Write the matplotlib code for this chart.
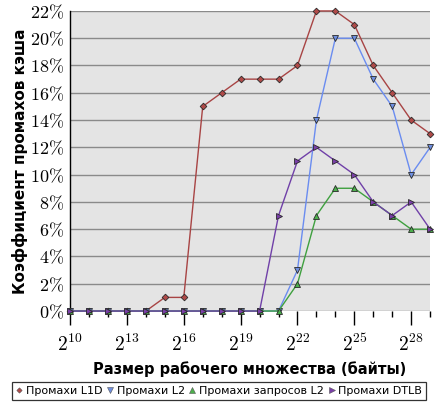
import matplotlib
matplotlib.use('Agg')
import matplotlib.pyplot as plt
from matplotlib.ticker import FixedLocator, MultipleLocator, FuncFormatter
from matplotlib.lines import Line2D

plt.rcParams['mathtext.fontset'] = 'cm'
plt.rcParams['font.family'] = ['DejaVu Sans']

# working set size, log2(bytes)
log2_size = list(range(10, 30))
l1d_miss = [0, 0, 0, 0, 0, 1, 1, 15, 16, 17, 17, 17, 18, 22, 22, 21, 18, 16, 14, 13]
l2_miss = [0, 0, 0, 0, 0, 0, 0, 0, 0, 0, 0, 0, 3, 14, 20, 20, 17, 15, 10, 12]
l2_req_miss = [0, 0, 0, 0, 0, 0, 0, 0, 0, 0, 0, 0, 2, 7, 9, 9, 8, 7, 6, 6]
dtlb_miss = [0, 0, 0, 0, 0, 0, 0, 0, 0, 0, 0, 7, 11, 12, 11, 10, 8, 7, 8, 6]
labels = ['Промахи L1D', 'Промахи L2', 'Промахи запросов L2', 'Промахи DTLB']

series = [
    (l1d_miss, 'D', '#a84444', '#b04a48', 3.4),
    (l2_miss, 'v', '#6a8cf0', '#6f8fe0', 5.0),
    (l2_req_miss, '^', '#3fa03f', '#4cb04c', 5.0),
    (dtlb_miss, '>', '#7040a8', '#7a3fa8', 5.0),
]

fig = plt.figure(figsize=(4.38, 4.05), dpi=100)
ax = fig.add_axes([0.160, 0.232, 0.822, 0.741])
ax.set_facecolor('#e4e4e4')

for vals, mk, lc, fc, ms in series:
    ax.plot(log2_size, vals, color=lc, lw=1.0, marker=mk, markersize=ms,
            markerfacecolor=fc, markeredgecolor='#2a2a2a', markeredgewidth=0.6,
            clip_on=False, zorder=3)

ax.set_xlim(10, 29)
ax.set_ylim(0, 22)
ax.yaxis.set_major_locator(MultipleLocator(2))
ax.yaxis.set_major_formatter(FuncFormatter(lambda v, p: r'$%d\%%$' % v))
ax.xaxis.set_major_locator(FixedLocator([10, 13, 16, 19, 22, 25, 28]))
ax.xaxis.set_minor_locator(MultipleLocator(1))
ax.xaxis.set_major_formatter(FuncFormatter(lambda v, p: r'$2^{%d}$' % v))
ax.grid(axis='y', color='#8a8a8a', lw=1.0, zorder=1)
ax.set_axisbelow(True)

for s in ['top', 'right', 'bottom']:
    ax.spines[s].set_visible(False)
ax.spines['left'].set_color('black')
ax.spines['left'].set_linewidth(1.0)

ax.tick_params(axis='x', which='major', length=10, width=1, color='black',
               labelsize=14, pad=6)
ax.tick_params(axis='x', which='minor', length=4, width=1, color='black')
ax.tick_params(axis='y', length=0, labelsize=13, pad=4)

ax.set_xlabel('Размер рабочего множества (байты)', fontsize=10.5,
              fontweight='bold', labelpad=5)
ax.set_ylabel('Коэффициент промахов кэша', fontsize=11, fontweight='bold',
              labelpad=2)

handles = [Line2D([], [], ls='none', marker=mk, markersize=ms * 0.8,
                  markerfacecolor=fc, markeredgecolor='#555555',
                  markeredgewidth=0.4)
           for _, mk, _, fc, ms in series]
leg = fig.legend(handles, labels, loc='lower center', ncol=4,
                 bbox_to_anchor=(0.5, 0.005), fontsize=8, frameon=True,
                 fancybox=False, edgecolor='black', handlelength=0.6,
                 handletextpad=0.3, columnspacing=0.4, borderpad=0.35,
                 borderaxespad=0.3)
leg.get_frame().set_linewidth(0.9)

fig.savefig('out.png', dpi=100, facecolor='white')
